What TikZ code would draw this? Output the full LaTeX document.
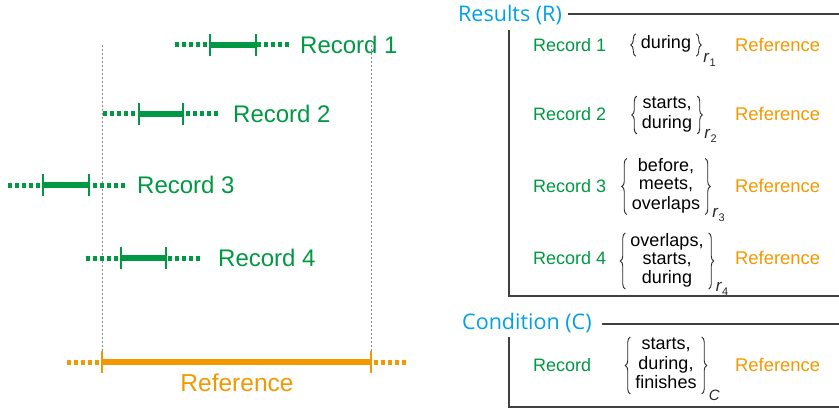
\documentclass[tikz,border=0pt]{standalone}
\usepackage{fontspec}
\setmainfont{Liberation Sans}
\newfontfamily\titlefont{Open Sans}
\usetikzlibrary{decorations.pathreplacing}
\definecolor{recgreen}{RGB}{0,152,66}
\definecolor{reforange}{RGB}{243,152,0}
\definecolor{titleblue}{RGB}{0,160,233}
\definecolor{boxgray}{RGB}{64,64,64}
\definecolor{guidegray}{RGB}{140,140,140}
\definecolor{bracegray}{RGB}{40,40,40}
\tikzset{
  dotseg/.style={line width=5pt, dash pattern=on 4pt off 3pt},
  solidseg/.style={line width=5.5pt},
  tickmark/.style={line width=2.2pt},
  guide/.style={draw=guidegray, line width=1pt, dash pattern=on 2pt off 2pt},
  bigrec/.style={text=recgreen, font=\fontsize{24}{28}\selectfont, anchor=west, inner sep=0pt},
  bigref/.style={text=reforange, font=\fontsize{24.5}{28}\selectfont, inner sep=0pt},
  smallrec/.style={text=recgreen, font=\fontsize{18}{21}\selectfont, anchor=west, inner sep=0pt},
  smallref/.style={text=reforange, font=\fontsize{18.4}{21}\selectfont, anchor=west, inner sep=0pt},
  rel/.style={text=black, font=\fontsize{18}{18}\selectfont, align=center, inner xsep=5pt, inner ysep=0pt},
  brace/.style={draw=bracegray, decorate, decoration={brace, amplitude=5pt}, line width=0.9pt},
  sub/.style={text=bracegray, font=\fontsize{17}{18}\selectfont, anchor=west, inner sep=0pt},
  title/.style={text=titleblue, font=\titlefont\fontsize{21.5}{26}\selectfont, anchor=west, inner sep=0pt},
  frame/.style={draw=boxgray, line width=1.5pt},
}
\newcommand{\intervalbar}[6]{%
  \draw[#1,dotseg] (#2,#6) -- (#3,#6);
  \draw[#1,dotseg] (#5,#6) -- (#4,#6);
  \draw[#1,solidseg] (#3,#6) -- (#4,#6);
  \draw[#1,tickmark] (#3,#6-11) -- (#3,#6+11);
  \draw[#1,tickmark] (#4,#6-11) -- (#4,#6+11);
}
\newcommand{\subr}[1]{\textit{r}\raisebox{-0.25em}{\fontsize{11}{11}\selectfont #1}}
\newcommand{\bracepair}[1]{%
  \draw[brace] (#1.south west) -- (#1.north west);
  \draw[brace] (#1.north east) -- (#1.south east);
}
\begin{document}
\begin{tikzpicture}[x=1pt,y=-1pt]
\useasboundingbox (0,0) rectangle (839,412);
% guides
\draw[guide] (102,45) -- (102,362);
\draw[guide] (371,45) -- (371,362);
% left intervals
\intervalbar{recgreen}{175}{210}{256}{289}{45}
\node[bigrec] (rec1) at (300,45) {Record 1};
\intervalbar{recgreen}{103}{139}{183}{218}{114}
\node[bigrec] (rec2) at (233,114) {Record 2};
\intervalbar{recgreen}{8}{43}{89}{125}{185}
\node[bigrec] (rec3) at (137,185) {Record 3};
\intervalbar{recgreen}{86}{121}{166}{200}{258}
\node[bigrec] (rec4) at (218,258) {Record 4};
\intervalbar{reforange}{67}{102}{371}{406}{362}
\node[bigref] (refl) at (237,383) {Reference};
% results panel
\node[title] (rt) at (458,15) {Results (R)};
\draw[frame] (568,14) -- (839,14);
\draw[frame] (509,30) -- (509,296) -- (839,296);
\node[smallrec] (r1a) at (533,45) {Record 1};
\node[rel, minimum height=22pt] (r1b) at (666,45) {\strut during};
\node[smallref] (r1c) at (735,45) {Reference};
\bracepair{r1b}
\node[sub] (r1s) at ([xshift=7pt,yshift=-4pt]r1b.south east) {\subr{1}};
\node[smallrec] (r2a) at (533,114) {Record 2};
\node[rel] (r2b) at (667,115) {\strut starts,\\\strut during};
\node[smallref] (r2c) at (735,114) {Reference};
\bracepair{r2b}
\node[sub] (r2s) at ([xshift=7pt,yshift=-2pt]r2b.south east) {\subr{2}};
\node[smallrec] (r3a) at (533,186) {Record 3};
\node[rel] (r3b) at (666,186.5) {\strut before,\\\strut meets,\\\strut overlaps};
\node[smallref] (r3c) at (735,186) {Reference};
\bracepair{r3b}
\node[sub] (r3s) at ([xshift=7pt]r3b.south east) {\subr{3}};
\node[smallrec] (r4a) at (533,258) {Record 4};
\node[rel] (r4b) at (667,261) {\strut overlaps,\\\strut starts,\\\strut during};
\node[smallref] (r4c) at (735,258) {Reference};
\bracepair{r4b}
\node[sub] (r4s) at ([xshift=7pt]r4b.south east) {\subr{4}};
% condition panel
\node[title] (ct) at (462,323) {Condition (C)};
\draw[frame] (602,324) -- (839,324);
\draw[frame] (509,337) -- (509,407) -- (839,407);
\node[smallrec] (c1a) at (533,365) {Record};
\node[rel] (c1b) at (666,365.5) {\strut starts,\\\strut during,\\\strut finishes};
\node[smallref] (c1c) at (735,365) {Reference};
\bracepair{c1b}
\node[sub, font=\fontsize{15}{16}\selectfont] (c1s) at ([xshift=7pt,yshift=-1pt]c1b.south east) {\textit{C}};
\end{tikzpicture}
\end{document}
